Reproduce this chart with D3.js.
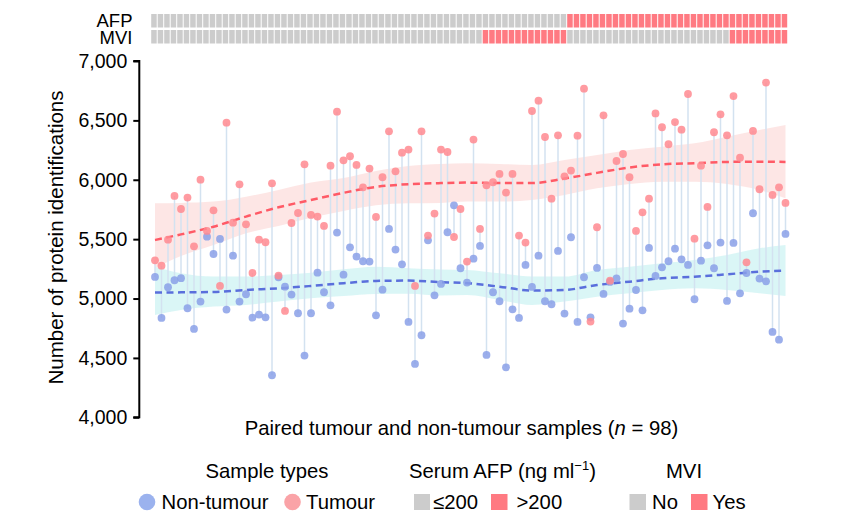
<!DOCTYPE html>
<html>
<head>
<meta charset="utf-8">
<script src="https://cdn.jsdelivr.net/npm/d3@7/dist/d3.min.js"></script>
<style>
  html, body { margin: 0; padding: 0; background: #fff; }
  svg { display: block; font-family: "Liberation Sans", Arial, Helvetica, sans-serif; }
</style>
</head>
<body>
<svg id="chart" width="841" height="518"></svg>
<script>
// ---------- DATA ----------
const tumour = [5322,5277,5496,5864,5754,5850,5440,6001,5569,5743,
  5106,6481,5639,5962,5625,5215,5496,5474,5970,5193,
  4896,5636,5720,6130,5704,5690,5611,6119,6573,6164,
  6198,6125,5936,6094,5687,6021,6408,6071,6228,6254,
  5106,6408,5530,5715,6254,6234,5518,5754,5311,6338,
  5586,5953,5979,6049,5892,6049,5530,5471,6579,6666,
  6360,5841,6374,6029,6077,6371,6767,4806,5600,6543,
  5150,6158,6217,6021,5569,5726,5841,6559,6442,6299,
  6486,6422,6722,5504,6119,5771,6400,6551,6374,6705,
  6186,5305,6411,5920,6818,5872,5936,5805];
const nonTumour = [5182,4837,5095,5154,5171,4918,4744,4974,5521,5375,
  5502,4907,5361,4974,5036,4839,4865,4842,4354,5179,
  5100,5033,4876,4520,4876,5218,5053,4943,5555,5201,
  5431,5353,5314,5311,4859,5075,5586,5412,5288,4803,
  4449,4691,5490,5027,5123,5558,5785,5255,5134,5336,
  5443,4525,5053,4977,4421,4909,4837,5283,5098,5361,
  4977,4952,5401,4873,5516,4803,5179,4842,5258,5039,
  5140,5170,4789,4915,5072,4901,5426,5190,5263,5314,
  5420,5330,5283,4994,5319,5448,5255,5471,4980,5468,
  5044,5215,5718,5168,5145,4719,4654,5544];
// serum AFP > 200 (1) or <= 200 (0); MVI yes (1) / no (0)
const afpHigh = [0,0,0,0,0,0,0,0,0,0, 0,0,0,0,0,0,0,0,0,0, 0,0,0,0,0,0,0,0,0,0,
  0,0,0,0,0,0,0,0,0,0, 0,0,0,0,0,0,0,0,0,0, 0,0,0,0,0,0,0,0,0,0,
  0,0,0,0,1,1,1,1,1,1, 1,1,1,1,1,1,1,1,1,1, 1,1,1,1,1,1,1,1,1,1,
  1,1,1,1,1,1,1,1];
const mviYes = [0,0,0,0,0,0,0,0,0,0, 0,0,0,0,0,0,0,0,0,0, 0,0,0,0,0,0,0,0,0,0,
  0,0,0,0,0,0,0,0,0,0, 0,0,0,0,0,0,0,0,0,0, 0,1,1,1,1,1,1,1,1,1,
  1,1,1,1,0,0,0,0,0,0, 0,0,0,0,0,0,0,0,0,0, 0,0,0,0,0,0,0,0,0,1,
  1,1,1,1,1,1,1,1];
// smoothed trends at sample positions
const trendIdx   = [0,4,9,14,19,24,29,34,39,44,48,53,58,63,68,73,78,83,88,93,97];
const redTrend   = [5493,5540,5605,5690,5768,5830,5890,5940,5963,5972,5976,5972,5972,6010,6058,6103,6130,6139,6150,6152,6150];
const redUpper   = [5802,5805,5816,5858,5914,5976,6015,6074,6116,6133,6139,6133,6125,6167,6209,6251,6279,6307,6363,6419,6461];
const redLower   = [5255,5358,5451,5550,5611,5681,5737,5785,5802,5805,5816,5816,5830,5872,5928,5965,5984,5984,5965,5914,5844];
const blueTrend  = [5050,5052,5055,5072,5086,5106,5129,5148,5151,5138,5129,5100,5067,5072,5114,5142,5171,5184,5204,5226,5235];
const blueUpper  = [5268,5213,5185,5185,5199,5218,5246,5268,5255,5245,5241,5213,5185,5185,5241,5268,5297,5325,5367,5423,5451];
const blueLower  = [4862,4904,4932,4946,4974,5002,5022,5039,5040,5025,5030,4988,4946,4974,5016,5044,5072,5086,5072,5044,5022];
const yTicks = [4000,4500,5000,5500,6000,6500,7000];

// ---------- CHART ----------
const svg = d3.select("#chart");
const n = tumour.length;
const idx = d3.range(n);

const x = d3.scaleLinear().domain([0, n - 1]).range([155, 785.5]);
const xBand = d3.scaleBand().domain(idx).range([150.7, 787.7]).padding(0);
const y = d3.scaleLinear().domain([4000, 7000]).range([417.3, 61]);

const COL = {
  blue: "#8aa0e8", red: "#ff8a91",
  blueLine: "#5a6fdc", redLine: "#ff5a66",
  blueBand: "#d3f4f4", redBand: "#fde3e2",
  seg: "#d3e2f0", gray: "#cccccc", hdrRed: "#ff7a82"
};

// header bars
const hdr = svg.append("g");
hdr.selectAll("rect.afp").data(idx).join("rect")
  .attr("x", d => xBand(d) + 0.5).attr("y", 14)
  .attr("width", xBand.bandwidth() - 1).attr("height", 13.5)
  .attr("fill", d => afpHigh[d] ? COL.hdrRed : COL.gray);
hdr.selectAll("rect.mvi").data(idx).join("rect")
  .attr("x", d => xBand(d) + 0.5).attr("y", 30)
  .attr("width", xBand.bandwidth() - 1).attr("height", 13.5)
  .attr("fill", d => mviYes[d] ? COL.hdrRed : COL.gray);
svg.append("text").attr("x", 132.5).attr("y", 26.5).attr("text-anchor", "end")
  .attr("font-size", 18.5).text("AFP");
svg.append("text").attr("x", 132.5).attr("y", 44).attr("text-anchor", "end")
  .attr("font-size", 18.5).text("MVI");

// bands
const area = (up, lo) => d3.area()
  .x((d, i) => x(trendIdx[i]))
  .y0((d, i) => y(lo[i])).y1((d, i) => y(up[i]))
  .curve(d3.curveMonotoneX);
svg.append("path").attr("d", area(redUpper, redLower)(trendIdx))
  .attr("fill", COL.redBand).attr("opacity", 0.9);
svg.append("path").attr("d", area(blueUpper, blueLower)(trendIdx))
  .attr("fill", COL.blueBand).attr("opacity", 0.85);

// segments
svg.append("g").selectAll("line").data(idx).join("line")
  .attr("x1", d => x(d)).attr("x2", d => x(d))
  .attr("y1", d => y(tumour[d])).attr("y2", d => y(nonTumour[d]))
  .attr("stroke", COL.seg).attr("stroke-width", 1.5);

// trend lines
const line = vals => d3.line()
  .x((d, i) => x(trendIdx[i])).y((d, i) => y(vals[i]))
  .curve(d3.curveMonotoneX)(trendIdx);
svg.append("path").attr("d", line(redTrend)).attr("fill", "none")
  .attr("stroke", COL.redLine).attr("stroke-width", 2.5).attr("stroke-dasharray", "7,4.5");
svg.append("path").attr("d", line(blueTrend)).attr("fill", "none")
  .attr("stroke", COL.blueLine).attr("stroke-width", 2.5).attr("stroke-dasharray", "7,4.5");

// points
svg.append("g").selectAll("circle").data(idx).join("circle")
  .attr("cx", d => x(d)).attr("cy", d => y(nonTumour[d])).attr("r", 3.9)
  .attr("fill", COL.blue).attr("fill-opacity", 0.85);
svg.append("g").selectAll("circle").data(idx).join("circle")
  .attr("cx", d => x(d)).attr("cy", d => y(tumour[d])).attr("r", 3.9)
  .attr("fill", COL.red).attr("fill-opacity", 0.85);

// y axis
const yAxis = d3.axisLeft(y).tickValues(yTicks).tickSize(6).tickPadding(6)
  .tickFormat(d3.format(","));
const gy = svg.append("g").attr("transform", "translate(139.3,0)").call(yAxis);
gy.select(".domain").attr("stroke", "#000").attr("stroke-width", 2)
  .attr("d", `M-6,${y(4000)}H0V${y(7000)}H-6`);
gy.selectAll(".tick line").attr("stroke", "#000").attr("stroke-width", 2);
gy.selectAll(".tick text").attr("font-size", 19.5).attr("fill", "#000")
  .attr("font-family", "Liberation Sans, Arial, sans-serif");

// axis titles
svg.append("text").attr("transform", `translate(63,237.5) rotate(-90)`)
  .attr("text-anchor", "middle").attr("font-size", 20.5)
  .text("Number of protein identifications");
const xt = svg.append("text").attr("x", 461.5).attr("y", 435)
  .attr("text-anchor", "middle").attr("font-size", 20.3);
xt.append("tspan").text("Paired tumour and non-tumour samples (");
xt.append("tspan").attr("font-style", "italic").text("n");
xt.append("tspan").text(" = 98)");

// legend
const lg = svg.append("g").attr("font-size", 20.3);
lg.append("text").attr("x", 267).attr("y", 478).attr("text-anchor", "middle").text("Sample types");
const at = lg.append("text").attr("x", 502.5).attr("y", 478).attr("text-anchor", "middle");
at.append("tspan").text("Serum AFP (ng ml");
at.append("tspan").attr("font-size", 13).attr("dy", -8).text("\u22121");
at.append("tspan").attr("dy", 8).text(")");
lg.append("text").attr("x", 684).attr("y", 478).attr("text-anchor", "middle").text("MVI");

lg.append("circle").attr("cx", 147).attr("cy", 502).attr("r", 8.3).attr("fill", "#9bb2ee");
lg.append("text").attr("x", 161.5).attr("y", 509).text("Non-tumour");
lg.append("circle").attr("cx", 292.5).attr("cy", 502).attr("r", 8.3).attr("fill", "#faa3a7");
lg.append("text").attr("x", 306).attr("y", 509).text("Tumour");

lg.append("rect").attr("x", 414).attr("y", 494).attr("width", 16).attr("height", 16).attr("fill", COL.gray);
lg.append("text").attr("x", 433).attr("y", 509).text("\u2264200");
lg.append("rect").attr("x", 491).attr("y", 494).attr("width", 16.5).attr("height", 16).attr("fill", COL.hdrRed);
lg.append("text").attr("x", 516.5).attr("y", 509).text(">200");
lg.append("rect").attr("x", 629.5).attr("y", 494).attr("width", 16.5).attr("height", 16).attr("fill", COL.gray);
lg.append("text").attr("x", 652).attr("y", 509).text("No");
lg.append("rect").attr("x", 691).attr("y", 494).attr("width", 16.5).attr("height", 16).attr("fill", COL.hdrRed);
lg.append("text").attr("x", 712.5).attr("y", 509).text("Yes");
</script>
</body>
</html>
